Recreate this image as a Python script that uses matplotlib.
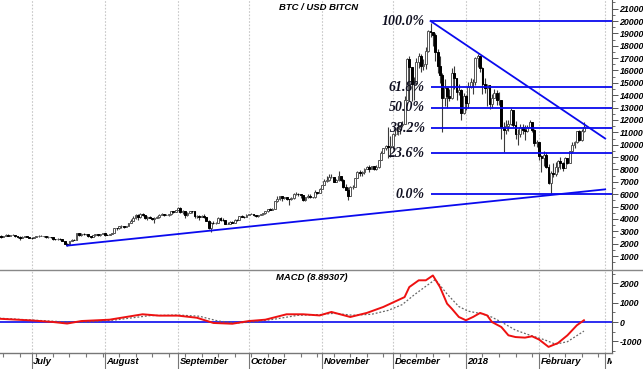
import numpy as np
import pandas as pd
import matplotlib
matplotlib.use("Agg")
import matplotlib.pyplot as plt
import matplotlib.dates as mdates
from matplotlib.lines import Line2D

# ---------------- data (daily BTC/USD) ----------------
start_date = "2017-06-17"
first_open = 2500

closes_jun = [2650, 2510, 2590, 2730, 2650, 2700, 2710, 2590, 2560, 2470, 2560, 2580, 2540, 2480]
highs_jun = [2680, 2660, 2620, 2770, 2800, 2720, 2760, 2720, 2640, 2600, 2600, 2620, 2600, 2560]
lows_jun = [2450, 2480, 2500, 2580, 2620, 2620, 2680, 2560, 2480, 2300, 2430, 2520, 2520, 2460]

closes_jul = [2430, 2520, 2600, 2610, 2620, 2610, 2510, 2560, 2500, 2380, 2340, 2400, 2360, 2240, 1990, 1930,
              2230, 2320, 2280, 2850, 2680, 2810, 2750, 2760, 2580, 2560, 2680, 2800, 2730, 2760, 2880]
highs_jul = [2520, 2560, 2640, 2660, 2660, 2640, 2620, 2580, 2570, 2520, 2410, 2420, 2440, 2380, 2250, 2080,
             2240, 2400, 2400, 2890, 2900, 2880, 2850, 2800, 2780, 2640, 2720, 2820, 2820, 2780, 2900]
lows_jul = [2380, 2420, 2500, 2560, 2580, 2560, 2480, 2490, 2480, 2330, 2300, 2330, 2330, 2200, 1990, 1840,
            1930, 2190, 2260, 2270, 2610, 2600, 2700, 2690, 2500, 2450, 2560, 2650, 2650, 2650, 2750]

closes_aug = [2720, 2710, 2800, 2860, 3250, 3230, 3400, 3420, 3350, 3430, 3650, 3870, 4060, 4320, 4160, 4380,
              4290, 4110, 4190, 4080, 4000, 4080, 4150, 4330, 4370, 4350, 4350, 4380, 4600, 4570, 4740]
highs_aug = [2900, 2800, 2820, 2880, 3300, 3300, 3420, 3480, 3420, 3440, 3700, 3960, 4200, 4400, 4400, 4450,
             4470, 4350, 4200, 4200, 4100, 4150, 4250, 4360, 4480, 4390, 4420, 4400, 4650, 4640, 4750]
lows_aug = [2620, 2660, 2680, 2780, 2840, 3140, 3200, 3250, 3230, 3330, 3400, 3650, 3850, 4000, 3900, 4100,
            4230, 4000, 3950, 4040, 3950, 3650, 4050, 4100, 4300, 4270, 4310, 4250, 4330, 4470, 4530]

closes_sep = [4900, 4580, 4640, 4330, 4470, 4620, 4600, 4230, 4230, 4160, 4200, 4160, 3860, 3230, 3700, 3690,
              3700, 4090, 3910, 3890, 3620, 3620, 3780, 3660, 3930, 3890, 4210, 4180, 4170, 4340]
highs_sep = [4940, 4950, 4720, 4640, 4530, 4640, 4680, 4680, 4330, 4330, 4330, 4380, 4170, 3900, 3780, 3840,
             3760, 4120, 4130, 4050, 3900, 3780, 3800, 3800, 3970, 3980, 4250, 4280, 4200, 4370]
lows_sep = [4700, 4480, 4420, 4100, 4200, 4460, 4500, 4100, 4100, 3950, 4120, 4040, 3800, 3200, 2980, 3600,
            3580, 3680, 3850, 3860, 3600, 3570, 3580, 3640, 3680, 3860, 3900, 4140, 4050, 4150]

closes_oct = [4400, 4410, 4310, 4220, 4320, 4370, 4440, 4600, 4770, 4760, 4820, 5430, 5640, 5830, 5700, 5750,
              5600, 5570, 5700, 6000, 6000, 5980, 5900, 5520, 5740, 5890, 5770, 5750, 6160, 6130, 6450]
highs_oct = [4420, 4470, 4430, 4350, 4350, 4420, 4460, 4620, 4800, 4900, 4870, 5440, 5850, 5850, 5860, 5780,
             5770, 5600, 5750, 6070, 6180, 6070, 6040, 5900, 5760, 5980, 5990, 5800, 6300, 6200, 6470]
lows_oct = [4290, 4380, 4200, 4170, 4140, 4300, 4350, 4420, 4550, 4700, 4760, 4800, 5360, 5560, 5450, 5600,
            5500, 5160, 5500, 5620, 5900, 5820, 5700, 5460, 5430, 5700, 5700, 5700, 5720, 6000, 6120]

closes_nov = [6740, 7030, 7160, 7380, 7390, 6960, 7120, 7450, 7140, 6570, 6340, 5860, 6540, 6600, 7280, 7810,
              7700, 7790, 8040, 8200, 8070, 8250, 8030, 8230, 8750, 9300, 9700, 9900, 9800, 9900]
highs_nov = [6760, 7200, 7450, 7600, 7600, 7420, 7220, 7850, 7420, 7240, 6800, 6600, 6660, 6750, 7330, 7880,
             7950, 7850, 8110, 8280, 8360, 8300, 8280, 8330, 8800, 9500, 9720, 9970, 11400, 10700]
lows_nov = [6400, 6740, 6980, 7050, 7300, 6950, 6970, 7040, 7050, 6500, 6300, 5550, 5850, 6400, 6600, 7300,
            7500, 7500, 7620, 8000, 7800, 8050, 7980, 7930, 8140, 8760, 9290, 9540, 8900, 9000]

closes_dec = [10850, 10900, 11300, 11600, 11700, 13600, 16900, 16300, 14900, 15000, 16700, 17200, 16400, 16500,
              17600, 19200, 19100, 18900, 17500, 16400, 15600, 13800, 14600, 13900, 13800, 15800, 15400, 14300,
              14400, 12600, 13900]
highs_dec = [10950, 11200, 11800, 11600, 11900, 13900, 17000, 17200, 16200, 15500, 17000, 17400, 17300, 16900,
             17900, 19300, 19800, 19100, 19000, 17700, 17200, 15800, 15300, 14600, 14500, 16200, 16400, 15400,
             14900, 14500, 14200]
lows_dec = [9650, 10700, 10800, 10900, 11400, 11700, 13700, 13500, 13500, 13600, 14900, 16200, 15900, 16000,
            16100, 17500, 18700, 18000, 16800, 15800, 15000, 11000, 13100, 13000, 13500, 13700, 14500, 13600,
            14000, 12000, 12500]

closes_jan = [13400, 14700, 15100, 15100, 17000, 17200, 16200, 14900, 14600, 14800, 13300, 13800, 14200, 13600,
              13600, 11400, 11200, 11500, 11700, 12800, 11600, 10900, 10900, 11400, 11200, 11100, 11400, 11800,
              11200, 10100, 10200]
highs_jan = [14000, 15100, 15400, 15300, 17100, 17300, 17200, 16300, 15400, 14900, 14800, 14100, 14500, 14400,
             14300, 13600, 11800, 12000, 12000, 13000, 12800, 11900, 11300, 11700, 11700, 11600, 11600, 12000,
             11800, 11300, 10400]
lows_jan = [12800, 13000, 14600, 14100, 14800, 16300, 15900, 14100, 14200, 13100, 12900, 13000, 13800, 13200,
            13200, 10500, 9400, 10900, 11100, 11600, 11400, 10500, 9980, 10600, 10900, 10400, 11000, 11400,
            11000, 9900, 9800]

closes_feb = [9100, 8900, 9200, 8200, 6900, 7700, 7600, 8200, 8700, 8500, 8100, 8900, 8500, 9500, 10000, 10200,
              11100, 10400, 11100, 11400]
highs_feb = [10200, 9200, 9500, 9400, 8400, 7900, 8500, 8600, 8800, 9000, 8600, 9000, 8900, 9500, 10200, 10300,
             11100, 11200, 11300, 11800]
lows_feb = [8800, 7800, 8300, 8100, 6800, 6000, 7400, 7500, 7800, 8000, 7900, 8100, 8400, 8500, 9300, 9700,
            10100, 10300, 10300, 11000]

# MACD line and signal line
macd_dates = ["2017-06-17", "2017-07-01", "2017-07-10", "2017-07-16", "2017-07-22", "2017-08-03", "2017-08-17",
              "2017-08-24", "2017-09-01", "2017-09-09", "2017-09-16", "2017-09-24", "2017-10-01", "2017-10-08",
              "2017-10-17", "2017-10-24", "2017-10-31", "2017-11-05", "2017-11-13", "2017-11-20", "2017-11-27",
              "2017-12-03", "2017-12-06", "2017-12-08", "2017-12-12", "2017-12-15", "2017-12-18", "2017-12-21",
              "2017-12-24", "2017-12-26", "2017-12-29", "2018-01-01", "2018-01-04", "2018-01-07", "2018-01-10",
              "2018-01-12", "2018-01-16", "2018-01-19", "2018-01-22", "2018-01-26", "2018-01-29", "2018-02-01",
              "2018-02-05", "2018-02-09", "2018-02-13", "2018-02-17", "2018-02-20"]
macd_values = [170, 80, 0, -80, 50, 120, 400, 330, 330, 220, -50, -90, 50, 120, 400, 400, 340, 520, 260, 470, 780,
               1120, 1290, 1810, 2160, 2160, 2410, 1810, 950, 690, 260, 90, 260, 470, 340, 0, -260, -690, -780,
               -810, -740, -910, -1290, -1090, -690, -170, 90]

signal_dates = ["2017-06-17", "2017-07-01", "2017-07-16", "2017-07-25", "2017-08-05", "2017-08-20", "2017-09-01",
                "2017-09-10", "2017-09-18", "2017-09-26", "2017-10-03", "2017-10-12", "2017-10-22", "2017-10-31",
                "2017-11-06", "2017-11-14", "2017-11-22", "2017-11-29", "2017-12-05", "2017-12-10", "2017-12-15",
                "2017-12-19", "2017-12-24", "2017-12-29", "2018-01-02", "2018-01-08", "2018-01-12", "2018-01-16",
                "2018-01-22", "2018-01-28", "2018-02-03", "2018-02-08", "2018-02-13", "2018-02-20"]
signal_values = [200, 100, 0, 0, 100, 330, 360, 300, 50, -50, 0, 150, 350, 380, 450, 350, 400, 600, 900, 1400,
                 1850, 2200, 1450, 800, 560, 420, 250, 0, -420, -680, -910, -1150, -1020, -470]

# Fibonacci retracement and trend lines
fib_low, fib_high = 6000, 20000
fib_levels = [0.0, 23.6, 38.2, 50.0, 61.8, 100.0]
fib_start = "2017-12-17"
support_dates = ["2017-07-16", "2018-03-01"]
support_values = [1840, 6390]
resist_dates = ["2017-12-17", "2018-03-01"]
resist_values = [20000, 10500]

month_starts = ["2017-07-01", "2017-08-01", "2017-09-01", "2017-10-01", "2017-11-01", "2017-12-01",
                "2018-01-01", "2018-02-01", "2018-03-01"]
month_labels = ["July", "August", "September", "October", "November", "December", "2018", "February", "March"]
price_ticks = list(range(1000, 21001, 1000))
macd_ticks = [-1000, 0, 1000, 2000]

title = "BTC / USD BITCN"
macd_title = "MACD (8.89307)"

# ---------------- assemble ----------------
closes = np.array(closes_jun + closes_jul + closes_aug + closes_sep + closes_oct + closes_nov + closes_dec
                  + closes_jan + closes_feb, dtype=float)
highs = np.array(highs_jun + highs_jul + highs_aug + highs_sep + highs_oct + highs_nov + highs_dec
                 + highs_jan + highs_feb, dtype=float)
lows = np.array(lows_jun + lows_jul + lows_aug + lows_sep + lows_oct + lows_nov + lows_dec
                + lows_jan + lows_feb, dtype=float)
n = min(len(closes), len(highs), len(lows))
closes, highs, lows = closes[:n], highs[:n], lows[:n]
opens = np.concatenate([[first_open], closes[:-1]])
highs = np.maximum(highs, np.maximum(opens, closes))
lows = np.minimum(lows, np.minimum(opens, closes))
dates = mdates.date2num(pd.date_range(start_date, periods=n).to_pydatetime())

BLUE = "#0a0aee"
W, H = 643, 369
fig = plt.figure(figsize=(W / 100, H / 100), dpi=100)
ax = fig.add_axes([0, 1 - 269 / H, 612 / W, 269 / H])
axm = fig.add_axes([0, 1 - 353 / H, 612 / W, 83 / H], sharex=ax)
axl = fig.add_axes([0, 0, 612 / W, 16 / H], sharex=ax)

x0 = mdates.date2num(pd.Timestamp("2017-07-01")) - 31.7 / 2.36
x1 = mdates.date2num(pd.Timestamp("2017-07-01")) + (612 - 31.7) / 2.36
ax.set_xlim(x0, x1)

tickfont = dict(family="Liberation Sans", fontweight="bold", fontstyle="italic", fontsize=6.3)
labfont = dict(family="Liberation Sans", fontweight="bold", fontstyle="italic", fontsize=6.8)

# month grid lines
mnum = mdates.date2num(pd.to_datetime(month_starts).to_pydatetime())
for a in (ax, axm):
    for m in mnum:
        a.axvline(m, color="#c8c8c8", lw=0.8, ls=(0, (1.5, 1.5)), zorder=0)

# candlesticks
up = closes >= opens
ax.vlines(dates, lows, highs, color="#3a3a3a", lw=0.8, zorder=2)
body_bottom = np.minimum(opens, closes)
body_h = np.abs(closes - opens)
ax.bar(dates[up], body_h[up], bottom=body_bottom[up], width=0.8, facecolor="white",
       edgecolor="#555555", linewidth=0.7, zorder=3)
ax.bar(dates[~up], body_h[~up], bottom=body_bottom[~up], width=0.8, facecolor="black",
       edgecolor="black", linewidth=0.7, zorder=3)

# fibonacci lines
fs = mdates.date2num(pd.Timestamp(fib_start))
for lvl in fib_levels:
    v = fib_low + (fib_high - fib_low) * lvl / 100.0
    ax.plot([fs, x1], [v, v], color=BLUE, lw=1.3, zorder=4, solid_capstyle="butt")
    ax.text(fs - 2.5, v, f"{lvl:.1f}%", ha="right", va="center", family="Liberation Serif",
            fontweight="bold", fontstyle="italic", fontsize=10, color="#111122", zorder=5)

# trend lines
ax.plot(mdates.date2num(pd.to_datetime(support_dates).to_pydatetime()), support_values,
        color=BLUE, lw=1.3, zorder=4)
ax.plot(mdates.date2num(pd.to_datetime(resist_dates).to_pydatetime()), resist_values,
        color=BLUE, lw=1.3, zorder=4)

ax.set_ylim(-50, 21700)
ax.yaxis.tick_right()
ax.set_yticks(price_ticks)
ax.set_yticklabels([str(t) for t in price_ticks], **tickfont)
ax.set_yticks(np.arange(500, 21700, 500), minor=True)
ax.tick_params(axis="y", which="major", length=4, width=0.7, pad=1.5, color="#555555")
ax.tick_params(axis="y", which="minor", length=2, width=0.6, color="#555555")
ax.tick_params(axis="x", which="both", bottom=False, labelbottom=False)
for s in ("left", "top", "bottom"):
    ax.spines[s].set_visible(False)
ax.spines["right"].set_color("#555555")
ax.spines["right"].set_linewidth(0.8)

# MACD panel
md = mdates.date2num(pd.to_datetime(macd_dates).to_pydatetime())
sd = mdates.date2num(pd.to_datetime(signal_dates).to_pydatetime())
axm.axhline(0, color=BLUE, lw=1.2, zorder=2)
axm.plot(sd, signal_values, color="#666666", lw=0.9, ls=(0, (1.5, 1.5)), zorder=3)
axm.plot(md, macd_values, color="#ee1111", lw=1.4, zorder=4)
axm.set_ylim(-1606, 2694)
axm.yaxis.tick_right()
axm.set_yticks(macd_ticks)
axm.set_yticklabels([str(t) for t in macd_ticks], **tickfont)
axm.set_yticks(np.arange(-1500, 2600, 500), minor=True)
axm.tick_params(axis="y", which="major", length=4, width=0.7, pad=1.5, color="#555555")
axm.tick_params(axis="y", which="minor", length=2, width=0.6, color="#555555")
axm.tick_params(axis="x", which="both", bottom=False, labelbottom=False)
for s in ("left", "top"):
    axm.spines[s].set_visible(False)
axm.spines["right"].set_color("#555555")
axm.spines["bottom"].set_color("#777777")
axm.spines["right"].set_linewidth(0.8)
axm.spines["bottom"].set_linewidth(1.0)

# month label strip
axl.set_ylim(0, 1)
axl.axis("off")
weeks = mdates.date2num(pd.date_range("2017-06-19", "2018-03-05", freq="7D").to_pydatetime())
axl.vlines(weeks, 0.72, 1.0, color="#777777", lw=0.8)
axl.vlines(mnum, 0.0, 1.0, color="#777777", lw=0.8)
for m, lab in zip(mnum, month_labels):
    axl.text(m + 0.7, 0.45, lab, ha="left", va="center", clip_on=True, **labfont)

# separator line and titles
fig.add_artist(Line2D([0, 1], [1 - 269.5 / H, 1 - 269.5 / H], color="#888888", lw=1.0))
fig.text(279 / W, 1 - 8 / H, title, ha="left", va="center", **labfont)
fig.text(276 / W, 1 - 277 / H, macd_title, ha="left", va="center", **labfont)

fig.savefig("out.png", dpi=100)
